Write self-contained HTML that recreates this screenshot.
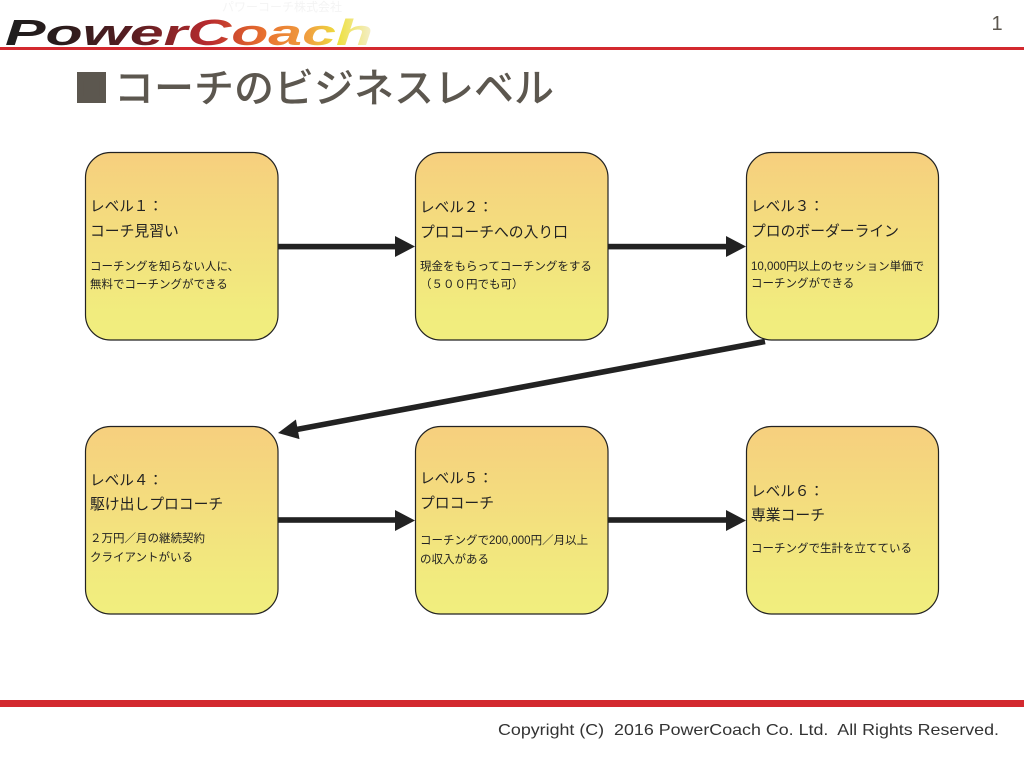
<!DOCTYPE html>
<html>
<head>
<meta charset="utf-8">
<style>
  html,body{margin:0;padding:0;background:#fff;}
  body{width:1024px;height:768px;position:relative;overflow:hidden;
       font-family:"Liberation Sans","Noto Sans CJK JP",sans-serif;}
  svg{position:absolute;left:0;top:0;}
  .t{position:absolute;white-space:nowrap;color:#222;
     font-family:"Liberation Sans","Noto Sans CJK JP",sans-serif;}
  .h1{font-size:14.6px;line-height:14.6px;}
  .h2{font-size:14.8px;line-height:14.8px;}
  .d{font-size:11.5px;line-height:11.5px;}
  .title{position:absolute;left:114px;top:65px;font-size:40px;line-height:40px;
         color:#5c574f;font-weight:500;white-space:nowrap;
         font-family:"Noto Sans CJK JP",sans-serif;}
  .sq{position:absolute;left:77px;top:72px;width:29px;height:31px;background:#5c574f;
      color:#5c574f;font-size:20px;line-height:31px;overflow:hidden;text-align:center;
      font-family:"Noto Sans CJK JP",sans-serif;}
</style>
</head>
<body>
<svg width="1024" height="768" viewBox="0 0 1024 768">
  <defs>
    <linearGradient id="logo" x1="5" y1="0" x2="375" y2="0" gradientUnits="userSpaceOnUse">
      <stop offset="0" stop-color="#1e1e1e"/>
      <stop offset="0.15" stop-color="#2a1c1c"/>
      <stop offset="0.35" stop-color="#5a1e22"/>
      <stop offset="0.55" stop-color="#b82a2e"/>
      <stop offset="0.7" stop-color="#e8702e"/>
      <stop offset="0.82" stop-color="#f0a040"/>
      <stop offset="0.9" stop-color="#eee040"/>
      <stop offset="1" stop-color="#f4f0d8"/>
    </linearGradient>
    <linearGradient id="box" x1="0" y1="0" x2="0" y2="1">
      <stop offset="0" stop-color="#f6cf7e"/>
      <stop offset="0.85" stop-color="#f1ec7e"/>
      <stop offset="1" stop-color="#f1ee7e"/>
    </linearGradient>
  </defs>

  <!-- faint header text -->
  <text x="222" y="11" font-size="12" fill="#f4f4f4" font-family="Liberation Sans, Noto Sans CJK JP, sans-serif">パワーコーチ株式会社</text>

  <!-- logo -->
  <text x="5" y="45" font-size="36" font-weight="bold" font-style="italic"
        textLength="368" lengthAdjust="spacingAndGlyphs"
        fill="url(#logo)" font-family="Liberation Sans, sans-serif">PowerCoach</text>

  <!-- top red line -->
  <rect x="0" y="47" width="1024" height="3" fill="#d3292f"/>

  <!-- page number -->
  <text x="997" y="30" font-size="20" fill="#5c574f" text-anchor="middle" font-family="Liberation Sans, sans-serif">1</text>

  <!-- boxes row 1 -->
  <rect x="85.5" y="152.5" width="192.5" height="187.5" rx="25" ry="25" fill="url(#box)" stroke="#222" stroke-width="1.2"/>
  <rect x="415.5" y="152.5" width="192.5" height="187.5" rx="25" ry="25" fill="url(#box)" stroke="#222" stroke-width="1.2"/>
  <rect x="746.5" y="152.5" width="192" height="187.5" rx="25" ry="25" fill="url(#box)" stroke="#222" stroke-width="1.2"/>
  <!-- boxes row 2 -->
  <rect x="85.5" y="426.5" width="192.5" height="187.5" rx="25" ry="25" fill="url(#box)" stroke="#222" stroke-width="1.2"/>
  <rect x="415.5" y="426.5" width="192.5" height="187.5" rx="25" ry="25" fill="url(#box)" stroke="#222" stroke-width="1.2"/>
  <rect x="746.5" y="426.5" width="192" height="187.5" rx="25" ry="25" fill="url(#box)" stroke="#222" stroke-width="1.2"/>

  <!-- arrows row 1 -->
  <rect x="278" y="243.8" width="119" height="5.6" fill="#222"/>
  <polygon points="395,236 415,246.5 395,257" fill="#222"/>
  <rect x="608" y="243.8" width="120" height="5.6" fill="#222"/>
  <polygon points="726,236 746,246.5 726,257" fill="#222"/>
  <!-- arrows row 2 -->
  <rect x="278" y="517.2" width="119" height="5.6" fill="#222"/>
  <polygon points="395,510 415,520.5 395,531" fill="#222"/>
  <rect x="608" y="517.2" width="120" height="5.6" fill="#222"/>
  <polygon points="726,510 746,520.5 726,531" fill="#222"/>

  <!-- diagonal arrow -->
  <line x1="765" y1="341.5" x2="296" y2="429.6" stroke="#222" stroke-width="5.6"/>
  <polygon points="278,433 295.9,419.5 299.5,439.1" fill="#222"/>

  <!-- footer red line -->
  <rect x="0" y="700" width="1024" height="7" fill="#d3292f"/>

  <!-- copyright -->
  <text x="498" y="735" font-size="16" fill="#333" textLength="501" lengthAdjust="spacingAndGlyphs"
        xml:space="preserve" font-family="Liberation Sans, sans-serif">Copyright (C)  2016 PowerCoach Co. Ltd.  All Rights Reserved.</text>
</svg>

<div class="sq">■</div>
<div class="title">コーチのビジネスレベル</div>

<!-- Box 1 -->
<div class="t h1" style="left:90px;top:200px;">レベル１：</div>
<div class="t h2" style="left:90px;top:225px;">コーチ見習い</div>
<div class="t d" style="left:90px;top:262px;">コーチングを知らない人に、</div>
<div class="t d" style="left:90px;top:280px;">無料でコーチングができる</div>

<!-- Box 2 -->
<div class="t h1" style="left:420px;top:201px;">レベル２：</div>
<div class="t h2" style="left:420px;top:226px;">プロコーチへの入り口</div>
<div class="t d" style="left:420px;top:262px;">現金をもらってコーチングをする</div>
<div class="t d" style="left:420px;top:280px;">（５００円でも可）</div>

<!-- Box 3 -->
<div class="t h1" style="left:751px;top:200px;">レベル３：</div>
<div class="t h2" style="left:751px;top:225px;">プロのボーダーライン</div>
<div class="t d" style="left:751px;top:262px;">10,000円以上のセッション単価で</div>
<div class="t d" style="left:751px;top:279px;">コーチングができる</div>

<!-- Box 4 -->
<div class="t h1" style="left:90px;top:474px;">レベル４：</div>
<div class="t h2" style="left:90px;top:498px;">駆け出しプロコーチ</div>
<div class="t d" style="left:90px;top:534px;">２万円／月の継続契約</div>
<div class="t d" style="left:90px;top:553px;">クライアントがいる</div>

<!-- Box 5 -->
<div class="t h1" style="left:420px;top:472px;">レベル５：</div>
<div class="t h2" style="left:420px;top:497px;">プロコーチ</div>
<div class="t d" style="left:420px;top:536px;">コーチングで200,000円／月以上</div>
<div class="t d" style="left:420px;top:555px;">の収入がある</div>

<!-- Box 6 -->
<div class="t h1" style="left:751px;top:485px;">レベル６：</div>
<div class="t h2" style="left:751px;top:509px;">専業コーチ</div>
<div class="t d" style="left:751px;top:544px;">コーチングで生計を立てている</div>
</body>
</html>
